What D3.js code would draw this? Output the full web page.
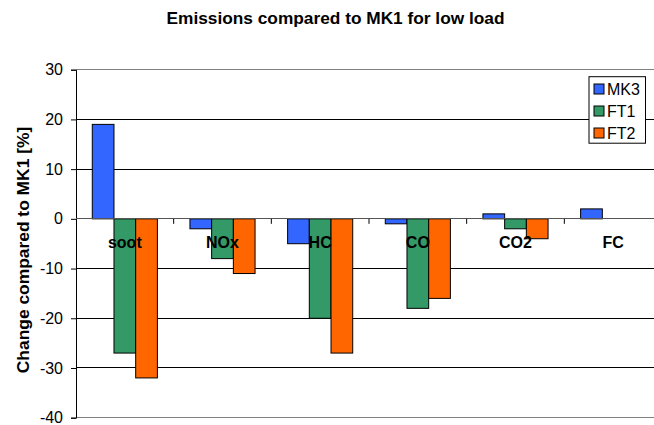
<!DOCTYPE html>
<html><head><meta charset="utf-8">
<script src="https://cdn.jsdelivr.net/npm/d3@7"></script>
<style>body{margin:0;background:#fff}svg{display:block;font-family:"Liberation Sans",Arial,sans-serif}</style>
</head><body>
<svg id="c" width="654" height="425"></svg>
<script>
const categories = ["soot","NOx","HC","CO","CO2","FC"];
const seriesNames = ["MK3","FT1","FT2"];
const MK3 = [19,-2,-5,-1,1,2];
const FT1 = [-27,-8,-20,-18,-2,0];
const FT2 = [-32,-11,-27,-16,-4,0];
const colors = ["#3366FF","#339966","#FF6600"];
const yTicks = [30,20,10,0,-10,-20,-30,-40];
const title = "Emissions compared to MK1 for low load";
const yLabel = "Change compared to MK1 [%]";

(function(){
const seriesVals = [MK3, FT1, FT2];
const svg = d3.select("#c");
const pL = 76, pR = 662, pT = 69.7, pB = 417.7;
const y = d3.scaleLinear().domain([-40,30]).range([pB, pT]);
const x0 = d3.scaleBand().domain(categories).range([pL, pR]).padding(0);
const x1 = d3.scaleBand().domain(seriesNames).range([0, x0.bandwidth()]).paddingInner(0).paddingOuter(0.75);

// gridlines
svg.append("g").selectAll("line").data(yTicks.filter(t=>t!==0 && t!==30 && t!==-40)).join("line")
  .attr("x1",pL).attr("x2",654).attr("y1",d=>y(d)).attr("y2",d=>y(d))
  .attr("stroke","#000").attr("stroke-width",1).attr("shape-rendering","crispEdges");
// plot border top/bottom
[30,-40].forEach(v=>svg.append("line").attr("x1",pL).attr("x2",654).attr("y1",y(v)).attr("y2",y(v))
  .attr("stroke","#808080").attr("stroke-width",1.5).attr("shape-rendering","crispEdges"));

// bars
categories.forEach((c,i)=>{
  seriesNames.forEach((s,j)=>{
    const v = seriesVals[j][i];
    if (v===0) return;
    svg.append("rect")
      .attr("x", x0(c)+x1(s)).attr("width", x1.bandwidth())
      .attr("y", y(Math.max(0,v))).attr("height", Math.abs(y(v)-y(0)))
      .attr("fill", colors[j]).attr("stroke","#000").attr("stroke-width",1);
  });
});

// y axis
const yAxis = d3.axisLeft(y).tickValues(yTicks).tickSize(5).tickFormat(d => String(d));
const ga = svg.append("g").attr("transform",`translate(${pL},0)`).call(yAxis);
ga.select(".domain").attr("stroke","#000");
ga.selectAll(".tick line").attr("stroke","#000");
ga.selectAll("text").attr("font-size","16px").attr("fill","#000").attr("x",-13)
  .attr("font-family","'Liberation Sans',Arial,sans-serif");

// x axis at zero
svg.append("line").attr("x1",pL).attr("x2",654).attr("y1",y(0)).attr("y2",y(0))
  .attr("stroke","#555").attr("stroke-width",1).attr("shape-rendering","crispEdges");
svg.append("g").selectAll("line").data(categories.slice(1)).join("line")
  .attr("x1",d=>x0(d)).attr("x2",d=>x0(d)).attr("y1",y(0)).attr("y2",y(0)+5)
  .attr("stroke","#000");
svg.append("g").selectAll("text").data(categories).join("text")
  .attr("x",d=>x0(d)+x0.bandwidth()/2).attr("y",y(0)+29)
  .attr("text-anchor","middle").attr("font-size","16px").attr("font-weight","bold").text(d=>d);

// title
svg.append("text").attr("x",335.5).attr("y",24).attr("text-anchor","middle")
  .attr("font-size","17.3px").attr("font-weight","bold").text(title);
// y label
svg.append("text").attr("transform",`translate(29,250) rotate(-90)`)
  .attr("text-anchor","middle").attr("font-size","17.4px").attr("font-weight","bold").text(yLabel);

// legend
const lg = svg.append("g");
lg.append("rect").attr("x",589).attr("y",76.7).attr("width",56.5).attr("height",66.5)
  .attr("fill","#fff").attr("stroke","#000").attr("stroke-width",1);
seriesNames.forEach((s,j)=>{
  const cy = 89 + j*22;
  lg.append("rect").attr("x",594).attr("y",cy-5).attr("width",10).attr("height",10)
    .attr("fill",colors[j]).attr("stroke","#000").attr("stroke-width",1);
  lg.append("text").attr("x",607).attr("y",cy+6).attr("font-size","16px").text(s);
});
})();
</script>
</body></html>
